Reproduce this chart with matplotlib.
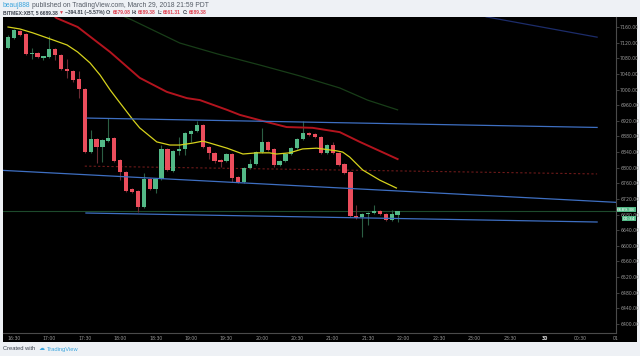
import matplotlib
matplotlib.use('Agg')
import matplotlib.pyplot as plt
import numpy as np
from matplotlib.patches import Rectangle
from matplotlib.transforms import IdentityTransform, blended_transform_factory

# 5 minute candles, 16:25 .. 21:55
opens  = [7106, 7132, 7150, 7142, 7091, 7093, 7081, 7083, 7104, 7088,
          7052, 7047, 7027, 7001, 6840, 6873, 6853, 6868, 6876, 6820,
          6789, 6745, 6740, 6699, 6771, 6745, 6771, 6848, 6792, 6843,
          6848, 6886, 6894, 6909, 6853, 6838, 6820, 6817, 6835, 6776,
          6763, 6799, 6809, 6840, 6866, 6848, 6807, 6817, 6835, 6850,
          6873, 6889, 6886, 6878, 6838, 6858, 6838, 6809, 6789, 6676,
          6674, 6681, 6684, 6689, 6681, 6666, 6679.08]
highs  = [7140, 7155, 7152, 7144, 7106, 7095, 7087, 7137, 7106, 7090,
          7078, 7049, 7047, 7003, 6896, 6875, 6873, 6927, 6878, 6822,
          6791, 6747, 6742, 6786, 6773, 6773, 6858, 6850, 6845, 6878,
          6891, 6896, 6920, 6911, 6855, 6840, 6822, 6837, 6837, 6778,
          6801, 6822, 6842, 6902, 6868, 6850, 6819, 6837, 6852, 6875,
          6920, 6891, 6888, 6880, 6860, 6866, 6840, 6811, 6791, 6704,
          6683, 6686, 6704, 6692, 6683, 6692, 6689.38]
lows   = [7104, 7130, 7138, 7089, 7078, 7081, 7076, 7081, 7076, 7050,
          7030, 7019, 6978, 6838, 6838, 6812, 6815, 6866, 6815, 6768,
          6738, 6735, 6687, 6697, 6743, 6735, 6769, 6792, 6790, 6832,
          6832, 6866, 6892, 6851, 6822, 6812, 6802, 6815, 6763, 6761,
          6761, 6797, 6807, 6838, 6843, 6802, 6805, 6815, 6833, 6848,
          6871, 6882, 6876, 6836, 6836, 6836, 6805, 6784, 6674, 6669,
          6623, 6653, 6682, 6679, 6664, 6664, 6661.31]
closes = [7134, 7152, 7140, 7091, 7093, 7083, 7086, 7104, 7088, 7052,
          7047, 7024, 7001, 6840, 6873, 6853, 6871, 6876, 6817, 6789,
          6740, 6738, 6699, 6771, 6745, 6771, 6848, 6794, 6843, 6848,
          6889, 6894, 6909, 6853, 6838, 6817, 6815, 6835, 6774, 6763,
          6799, 6809, 6840, 6866, 6845, 6807, 6817, 6835, 6850, 6873,
          6889, 6884, 6878, 6838, 6858, 6838, 6807, 6786, 6676, 6671,
          6681, 6684, 6689, 6681, 6666, 6681, 6689.38]

# moving averages (candle index, price)
fast_x = [0, 2, 4.2, 7.6, 10, 11.8, 13.9, 15.6, 17.3, 18.6, 21.2, 22.3, 25.2, 27.4,
          29.1, 31.3, 33, 34.2, 37.1, 39.8, 42.1, 44.3, 45.5, 47.7, 49.9, 52.3,
          55.7, 56.7, 57.9, 60.1, 63, 65.8]
fast_y = [7160, 7155, 7145, 7127, 7114, 7096, 7068, 7037, 6999, 6973, 6922, 6902, 6866, 6858,
          6858, 6863, 6868, 6863, 6850, 6835, 6838, 6838, 6835, 6838, 6848, 6850,
          6843, 6840, 6827, 6794, 6768, 6748]
mid_x = [7, 8.2, 11.8, 17.3, 22.3, 26.9, 30.3, 32.5, 37.1, 39.3, 43.8, 47.2, 51.6, 56.2, 59.6, 66]
mid_y = [7200, 7183, 7160, 7096, 7030, 6994, 6978, 6973, 6948, 6935, 6917, 6904, 6902, 6891, 6866, 6822]
slow_x = [19, 21, 29.1, 35.5, 42.6, 49.4, 56.2, 60.9, 66]
slow_y = [7191, 7178, 7119, 7091, 7063, 7035, 7004, 6973, 6948]

# drawn trend lines
upper_x, upper_y = [13.4, 99.8], [6927, 6903]
chan_x, chan_y = [-2, 106], [6794, 6709]
lower_x, lower_y = [13.2, 99.8], [6684, 6661]
dotted_x, dotted_y = [13.0, 99.8], [6804, 6784]
far_x, far_y = [81, 99.8], [7186, 7134]

last_price = 6689.38
price_ticks = np.arange(6400, 7161, 40)
time_pos = [1 + 6 * k for k in range(18)]
time_labels = ['16:30', '17:00', '17:30', '18:00', '18:30', '19:00', '19:30', '20:00', '20:30',
               '21:00', '21:30', '22:00', '22:30', '23:00', '23:30', '30', '00:30', '01']

UP, DOWN = '#53b987', '#eb4d5c'
UP_WICK, DOWN_WICK = '#2b5e43', '#6a2a33'
W, H = 640, 356
FAMILY = ['Liberation Sans', 'DejaVu Sans']

fig = plt.figure(figsize=(6.4, 3.56), dpi=100, facecolor='#eef1f5')
fig.patches.append(Rectangle((3 / W, 1 - 342 / H), 634 / W, 325 / H, transform=fig.transFigure,
                             facecolor='black', edgecolor='none', zorder=-5))
ax = fig.add_axes([3 / W, 1 - 333 / H, 613 / W, 316 / H])
ax.set_facecolor('black')

idx = np.arange(len(opens))
o, h, l, c = map(np.array, (opens, highs, lows, closes))
up = c >= o
ax.vlines(idx[up], l[up], h[up], color=UP_WICK, lw=0.8, zorder=2)
ax.vlines(idx[~up], l[~up], h[~up], color=DOWN_WICK, lw=0.8, zorder=2)
bottom = np.minimum(o, c)
height = np.maximum(np.abs(c - o), 2)
ax.bar(idx, height, bottom=bottom, width=0.72, color=np.where(up, UP, DOWN), zorder=3)

ax.plot(fast_x, fast_y, color='#d6d21c', lw=0.9, zorder=4)
ax.plot(mid_x, mid_y, color='#b3141e', lw=1.4, zorder=4)
ax.plot(slow_x, slow_y, color='#183d18', lw=0.9, zorder=1)

blue = '#3e6fc2'
ax.plot(upper_x, upper_y, color=blue, lw=0.9, zorder=5)
ax.plot(chan_x, chan_y, color=blue, lw=0.9, zorder=5)
ax.plot(lower_x, lower_y, color=blue, lw=0.9, zorder=5)
ax.plot(far_x, far_y, color='#1c2c6a', lw=0.9, zorder=1)
ax.plot(dotted_x, dotted_y, color='#6e1a1a', lw=0.8, ls=(0, (2, 2)), zorder=1)
ax.axhline(last_price, color='#1d4a2c', lw=0.8, zorder=1)

ax.set_xlim(-0.85, 102.9)
ax.set_ylim(6377, 7185.6)

for side in ('left', 'top'):
    ax.spines[side].set_visible(False)
for side in ('right', 'bottom'):
    ax.spines[side].set_color('#4a4a4a')
    ax.spines[side].set_linewidth(0.8)

ax.yaxis.tick_right()
ax.set_yticks(price_ticks)
ax.set_yticklabels(['%.2f' % p for p in price_ticks])
ax.tick_params(axis='y', colors='#4a4a4a', labelcolor='#9a9a9a', labelsize=3.3,
               length=2, width=0.6, pad=1)
ax.set_xticks(time_pos)
ax.set_xticklabels(time_labels)
ax.tick_params(axis='x', colors='#4a4a4a', labelcolor='#9a9a9a', labelsize=3.3,
               length=0, pad=2.5)
for t in ax.get_xticklabels():
    if t.get_text() == '30':
        t.set_color('#dddddd')
        t.set_fontweight('bold')

tr = blended_transform_factory(ax.transAxes, ax.transData)
ax.text(1.002, last_price + 3, '%.2f' % last_price, transform=tr, fontsize=3.2, color='white',
        va='center', ha='left', clip_on=False, zorder=6,
        bbox=dict(facecolor=UP, edgecolor='none', pad=0.4))
ax.text(1.011, last_price - 20, '00:34', transform=tr, fontsize=3.2, color='white',
        va='center', ha='left', clip_on=False, zorder=6,
        bbox=dict(facecolor=UP, edgecolor='none', pad=0.4))

renderer = fig.canvas.get_renderer()


def write_row(x, y, parts, size, right, weight='normal', gap=1.2):
    # coloured pieces one after another (pixels from top-left), scaled so the row ends at `right`
    def draw(sz):
        pos, made = x, []
        for s, col in parts:
            t = fig.text(pos, H - y, s, color=col, fontsize=sz, weight=weight, family=FAMILY,
                         va='center', ha='left', transform=IdentityTransform())
            made.append(t)
            pos = t.get_window_extent(renderer).x1 + gap
        return made, pos - gap
    made, end = draw(size)
    for t in made:
        t.remove()
    draw(size * (right - x) / (end - x))


dark = '#3a414c'
red = '#e0404f'
write_row(3, 5.5, [('beauj888', '#3ba5dd'), ('published on TradingView.com, March 29, 2018 21:59 PDT', '#555c66')],
          4.2, 210)
write_row(3, 12.5, [('BITMEX:XBT, 5 6689.38', dark), ('\u25bc', red), ('\u2212394.81 (\u22125.57%)', dark),
                    ('O:', dark), ('6679.08', red), ('H:', dark), ('6689.38', red),
                    ('L:', dark), ('6661.31', red), ('C:', dark), ('6689.38', red)], 4.0, 207, 'bold')
write_row(3, 349, [('Created with', dark), ('  \u2601', '#3ba5dd'), ('TradingView', '#3ba5dd')], 3.9, 78)

fig.savefig('out.png', dpi=100, facecolor=fig.get_facecolor())
